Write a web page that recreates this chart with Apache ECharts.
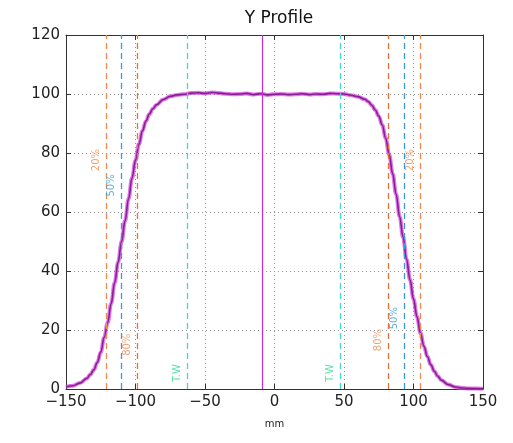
<!DOCTYPE html>
<html>
<head>
<meta charset="utf-8">
<script src="https://cdn.jsdelivr.net/npm/echarts@6/dist/echarts.min.js"></script>
<style>
  html, body { margin: 0; padding: 0; background: #fff; }
  #chart { width: 513px; height: 443px; }
</style>
</head>
<body>
<div id="chart"></div>
<script>
// profile positions (mm) and relative dose (%)
const positions = [
  -150, -145, -140, -135, -132.5, -130, -127.5, -125, -122.5, -120, -117.5, -115, -112.5, -110,
  -107.5, -105, -102.5, -100, -97.5, -95, -92.5, -90, -87.5, -85, -80, -75, -70, -65, -60, -55,
  -50, -45, -40, -35, -30, -25, -20, -15, -10, -5, 0, 5, 10, 15, 20, 25, 30, 35, 40, 45, 50,
  55, 60, 65, 67.5, 70, 72.5, 75, 77.5, 80, 82.5, 85, 87.5, 90, 92.5, 95, 97.5, 100, 102.5,
  105, 107.5, 110, 112.5, 115, 117.5, 120, 125, 130, 135, 140, 145, 150
]
const doseValues = [
  0.7, 1.1, 2.0, 3.6, 4.9, 6.5, 9.0, 12.5, 17.5, 22.5, 29, 36, 43, 50,
  57, 64.5, 71.5, 77.5, 83, 87.5, 90.8, 93.2, 95, 96.3, 98.1, 99.2, 99.7, 99.9, 100.3, 100.4,
  100.2, 100.5, 100.3, 100.1, 99.9, 100.0, 100.2, 99.8, 100.1, 99.7, 99.9, 100.0, 99.8, 99.9, 100.1, 99.8, 100.0, 99.9, 100.2, 100.1, 100.0,
  99.6, 99.1, 98.2, 97.4, 96.2, 94.6, 92.5, 89.5, 85, 79.5, 73, 66, 58.5, 51.5, 44, 37, 30.5, 24.5,
  19, 14.5, 11, 8.2, 6.0, 4.3, 3.0, 1.5, 0.7, 0.35, 0.2, 0.15, 0.1
]

// reference lines
const lineNames = ['20%', '50%', '80%', 'T.W', '20%', '50%', '80%', 'T.W']
const lineX = [-121, -110, -99, -63, 105, 93, 82, 47]
const lineColors = ['#F08A50', '#3A9AD9', '#E8703A', '#40D8C8', '#F08A50', '#3A9AD9', '#E8703A', '#40D8C8']
const labelColors = ['#F08A50', '#3A9AD9', '#F08A50', '#30D890', '#F08A50', '#3A9AD9', '#F08A50', '#30D890']
const labelY = [77.6, 69, 15, 5.4, 77.6, 24, 16.6, 5.4]
const labelOffsetX = -7
const centerX = -8.5

const chart = echarts.init(document.getElementById('chart'))

const tickFont = { fontFamily: 'DejaVu Sans', fontSize: 15, color: '#222' }
const frameLine = { show: true, onZero: false, lineStyle: { color: '#333', width: 1 } }
const inTick = { inside: true, length: 5, lineStyle: { color: '#333' } }
const dotGrid = { show: true, lineStyle: { color: '#999', type: [1, 3], width: 1 } }

const option = {
  animation: false,
  title: {
    text: 'Y Profile',
    left: 274,
    textAlign: 'center',
    top: 5,
    textStyle: { fontFamily: 'DejaVu Sans', fontSize: 17, fontWeight: 'normal', color: '#111' }
  },
  grid: { left: 66, right: 30, top: 35, bottom: 54 },
  xAxis: [
    {
      type: 'value', min: -150, max: 150, interval: 50,
      name: 'mm', nameLocation: 'middle', nameGap: 30,
      nameTextStyle: { fontFamily: 'DejaVu Sans', fontSize: 10, color: '#222' },
      axisLine: frameLine,
      axisTick: inTick,
      axisLabel: Object.assign({ margin: 6 }, tickFont, { formatter: v => String(v).replace('-', '\u2212') }),
      splitLine: dotGrid
    },
    {
      type: 'value', min: -150, max: 150, interval: 50, position: 'top',
      axisLine: frameLine, axisTick: inTick,
      axisLabel: { show: false }, splitLine: { show: false }
    }
  ],
  yAxis: [
    {
      type: 'value', min: 0, max: 120, interval: 20,
      axisLine: frameLine, axisTick: inTick,
      axisLabel: Object.assign({ margin: 6 }, tickFont),
      splitLine: dotGrid
    },
    {
      type: 'value', min: 0, max: 120, interval: 20, position: 'right',
      axisLine: frameLine, axisTick: inTick,
      axisLabel: { show: false }, splitLine: { show: false }
    }
  ],
  series: [
    {
      type: 'line',
      silent: true,
      data: [],
      markLine: {
        symbol: 'none',
        silent: true,
        label: { show: false },
        data: lineX.map((x, i) => ({
          xAxis: x,
          lineStyle: { color: lineColors[i], type: [6, 4], width: 1.3 }
        })).concat([{ xAxis: centerX, lineStyle: { color: '#C030D0', type: 'solid', width: 1.2 } }])
      }
    },
    {
      type: 'line',
      data: positions.map((x, i) => [x, doseValues[i]]),
      showSymbol: false,
      smooth: 0.4,
      smoothMonotone: 'x',
      lineStyle: { color: '#D040D8', width: 4, opacity: 0.7 },
      z: 3
    },
    {
      type: 'line',
      data: positions.map((x, i) => [x, doseValues[i]]),
      showSymbol: false,
      smooth: 0.4,
      smoothMonotone: 'x',
      lineStyle: { color: '#8A1C98', width: 1.6 },
      z: 4
    },
    {
      type: 'scatter',
      symbolSize: 0,
      silent: true,
      data: lineX.map((x, i) => ({
        value: [x + labelOffsetX, labelY[i]],
        label: { color: labelColors[i] }
      })),
      label: {
        show: true,
        position: 'inside',
        rotate: 90,
        fontFamily: 'DejaVu Sans',
        fontSize: 10,
        formatter: p => lineNames[p.dataIndex]
      },
      z: 5
    }
  ]
}

chart.setOption(option)
</script>
</body>
</html>
